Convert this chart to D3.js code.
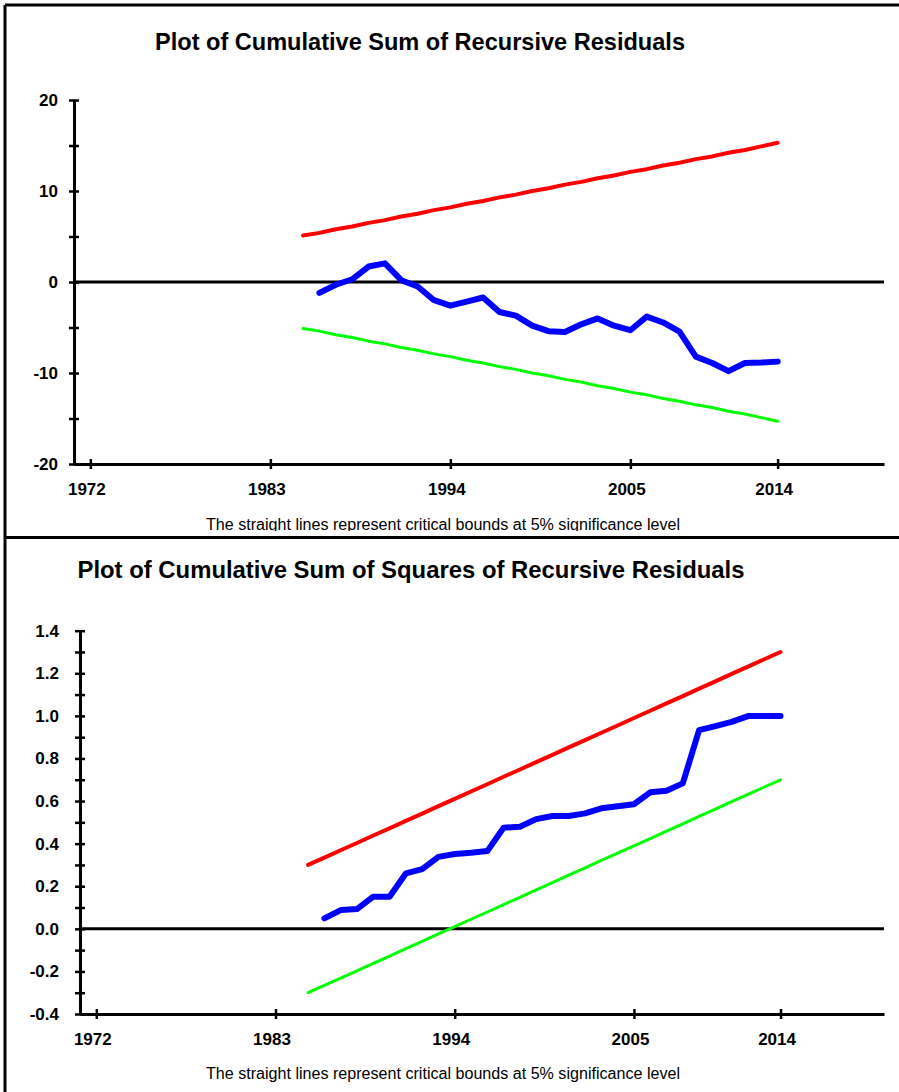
<!DOCTYPE html>
<html>
<head>
<meta charset="utf-8">
<script src="https://d3js.org/d3.v7.min.js"></script>
<style>
  body { margin: 0; background: #fff; }
  svg { display: block; }
  text { font-family: 'Liberation Sans', Arial, sans-serif; fill: #000; }
</style>
</head>
<body>
<div id="chart"></div>
<script>
// years of the recursive sample, bounds start in 1985, residual series in 1986
var years = [1985, 1986, 1987, 1988, 1989, 1990, 1991, 1992, 1993, 1994,
  1995, 1996, 1997, 1998, 1999, 2000, 2001, 2002, 2003, 2004,
  2005, 2006, 2007, 2008, 2009, 2010, 2011, 2012, 2013, 2014];

var xTickYears = [1972, 1983, 1994, 2005, 2014];

// CUSUM
var cusum = [-1.2, -0.3, 0.3, 1.7, 2.05, 0.2, -0.5, -2.0, -2.6, -2.15,
  -1.7, -3.3, -3.7, -4.8, -5.4, -5.5, -4.65, -4.0, -4.8, -5.3,
  -3.8, -4.45, -5.45, -8.2, -8.9, -9.8, -8.9, -8.85, -8.75];
var cusumUpper = [5.1, 5.4, 5.8, 6.1, 6.5, 6.8, 7.2, 7.5, 7.9, 8.2,
  8.6, 8.9, 9.3, 9.6, 10.0, 10.3, 10.7, 11.0, 11.4, 11.7,
  12.1, 12.4, 12.8, 13.1, 13.5, 13.8, 14.2, 14.5, 14.9, 15.3];
var cusumLower = [-5.1, -5.4, -5.8, -6.1, -6.5, -6.8, -7.2, -7.5, -7.9, -8.2,
  -8.6, -8.9, -9.3, -9.6, -10.0, -10.3, -10.7, -11.0, -11.4, -11.7,
  -12.1, -12.4, -12.8, -13.1, -13.5, -13.8, -14.2, -14.5, -14.9, -15.3];
var cusumTicks = [-20, -15, -10, -5, 0, 5, 10, 15, 20];

// CUSUM of squares
var cusumsq = [0.049, 0.088, 0.093, 0.151, 0.151, 0.26, 0.28, 0.338, 0.351, 0.357,
  0.365, 0.475, 0.479, 0.515, 0.53, 0.53, 0.542, 0.566, 0.576, 0.585,
  0.641, 0.648, 0.683, 0.933, 0.952, 0.972, 0.999, 0.999, 1.0];
var cusumsqUpper = [0.30, 0.334, 0.369, 0.403, 0.438, 0.472, 0.507, 0.541, 0.576, 0.610,
  0.645, 0.679, 0.714, 0.748, 0.783, 0.817, 0.852, 0.886, 0.921, 0.955,
  0.990, 1.024, 1.059, 1.093, 1.128, 1.162, 1.197, 1.231, 1.266, 1.30];
var cusumsqLower = [-0.30, -0.266, -0.231, -0.197, -0.162, -0.128, -0.093, -0.059, -0.024, 0.010,
  0.045, 0.079, 0.114, 0.148, 0.183, 0.217, 0.252, 0.286, 0.321, 0.355,
  0.390, 0.424, 0.459, 0.493, 0.528, 0.562, 0.597, 0.631, 0.666, 0.70];
var cusumsqTicks = [-0.4, -0.3, -0.2, -0.1, 0.0, 0.1, 0.2, 0.3, 0.4, 0.5, 0.6, 0.7,
  0.8, 0.9, 1.0, 1.1, 1.2, 1.3, 1.4];

var footnote = 'The straight lines represent critical bounds at 5% significance level';

var svgWidth = 899;
var svgHeight = 1092;

var svg = d3.select('#chart').append('svg')
  .attr('width', svgWidth)
  .attr('height', svgHeight);

svg.append('defs').append('clipPath').attr('id', 'topClip')
  .append('rect').attr('x', 0).attr('y', 0).attr('width', svgWidth).attr('height', 531);

// plain hyphen for negatives, as in the original
function hyphen(f) {
  return function(d) { return f(d).replace('\u2212', '-'); };
}

var panels = [
  {
    title: 'Plot of Cumulative Sum of Recursive Residuals',
    titleX: 420, titleY: 50, titleW: 530,
    xRange: [74, 884], xDomain: [1971.0, 2020.5],
    yRange: [464, 100], yDomain: [-20, 20],
    ticks: cusumTicks, labelEvery: 2, fmt: hyphen(d3.format('d')), labelPad: 11,
    mid: cusum, upper: cusumUpper, lower: cusumLower,
    upperW: 4, lowerW: 3,
    noteY: 530, clip: 'url(#topClip)'
  },
  {
    title: 'Plot of Cumulative Sum of Squares of Recursive Residuals',
    titleX: 411, titleY: 578, titleW: 667,
    xRange: [80, 884], xDomain: [1971.0, 2020.35],
    yRange: [1014, 630.7], yDomain: [-0.4, 1.4],
    ticks: cusumsqTicks, labelEvery: 2, fmt: hyphen(d3.format('.1f')), labelPad: 16,
    mid: cusumsq, upper: cusumsqUpper, lower: cusumsqLower,
    upperW: 4, lowerW: 3,
    noteY: 1079, clip: null
  }
];

panels.forEach(function(p) {
  var g = svg.append('g');
  if (p.clip) g.attr('clip-path', p.clip);

  var x = d3.scaleLinear().domain(p.xDomain).range(p.xRange);
  var y = d3.scaleLinear().domain(p.yDomain).range(p.yRange);

  g.append('text')
    .attr('x', p.titleX)
    .attr('y', p.titleY)
    .attr('text-anchor', 'middle')
    .attr('font-size', 24)
    .attr('font-weight', 'bold')
    .attr('textLength', p.titleW)
    .attr('lengthAdjust', 'spacingAndGlyphs')
    .text(p.title);

  // zero line
  g.append('line')
    .attr('x1', p.xRange[0]).attr('x2', p.xRange[1])
    .attr('y1', y(0)).attr('y2', y(0))
    .attr('stroke', '#000').attr('stroke-width', 3);

  var leftAxis = d3.axisLeft(y)
    .tickValues(p.ticks)
    .tickSizeOuter(0)
    .tickSizeInner(5)
    .tickPadding(p.labelPad)
    .tickFormat(function(d, i) { return i % p.labelEvery === 0 ? p.fmt(d) : ''; });

  var yAxis = g.append('g')
    .attr('transform', 'translate(' + p.xRange[0] + ',0)')
    .call(leftAxis);

  var bottomAxis = d3.axisBottom(x)
    .tickValues(xTickYears)
    .tickSizeOuter(0)
    .tickSizeInner(5)
    .tickPadding(14)
    .tickFormat(d3.format('d'));

  var xAxis = g.append('g')
    .attr('transform', 'translate(0,' + p.yRange[0] + ')')
    .call(bottomAxis);

  yAxis.selectAll('.tick line').attr('x1', -5).attr('x2', 5);
  xAxis.selectAll('.tick line').attr('y1', -5).attr('y2', 5);
  xAxis.selectAll('.tick text').attr('dx', -4);

  [yAxis, xAxis].forEach(function(a) {
    a.select('.domain').attr('stroke', '#000').attr('stroke-width', 3);
    a.selectAll('.tick line').attr('stroke', '#000').attr('stroke-width', 2.5);
    a.selectAll('.tick text')
      .attr('font-size', 17)
      .attr('font-weight', 'bold')
      .attr('font-family', "'Liberation Sans', Arial, sans-serif")
      .attr('fill', '#000');
  });

  var line = d3.line()
    .x(function(d) { return x(d[0]); })
    .y(function(d) { return y(d[1]); });

  var upperData = years.map(function(yr, i) { return [yr, p.upper[i]]; });
  var lowerData = years.map(function(yr, i) { return [yr, p.lower[i]]; });
  var midData = years.slice(1).map(function(yr, i) { return [yr, p.mid[i]]; });

  g.append('path').datum(upperData)
    .attr('d', line).attr('fill', 'none')
    .attr('stroke', '#ff0000').attr('stroke-width', p.upperW)
    .attr('stroke-linecap', 'round').attr('stroke-linejoin', 'round');

  g.append('path').datum(lowerData)
    .attr('d', line).attr('fill', 'none')
    .attr('stroke', '#00ff00').attr('stroke-width', p.lowerW)
    .attr('stroke-linecap', 'round').attr('stroke-linejoin', 'round');

  g.append('path').datum(midData)
    .attr('d', line).attr('fill', 'none')
    .attr('stroke', '#0000ff').attr('stroke-width', 6)
    .attr('stroke-linecap', 'round').attr('stroke-linejoin', 'round');

  g.append('text')
    .attr('x', 443)
    .attr('y', p.noteY)
    .attr('text-anchor', 'middle')
    .attr('font-size', 16)
    .attr('textLength', 474)
    .attr('lengthAdjust', 'spacingAndGlyphs')
    .text(footnote);
});

// frame: top edge, left edge and the rule between the two panels
svg.append('line')
  .attr('x1', 5).attr('x2', svgWidth).attr('y1', 5).attr('y2', 5)
  .attr('stroke', '#000').attr('stroke-width', 3);
svg.append('line')
  .attr('x1', 5).attr('x2', 5).attr('y1', 5).attr('y2', svgHeight)
  .attr('stroke', '#000').attr('stroke-width', 3);
svg.append('line')
  .attr('x1', 5).attr('x2', svgWidth).attr('y1', 537.5).attr('y2', 537.5)
  .attr('stroke', '#000').attr('stroke-width', 3);
</script>
</body>
</html>
